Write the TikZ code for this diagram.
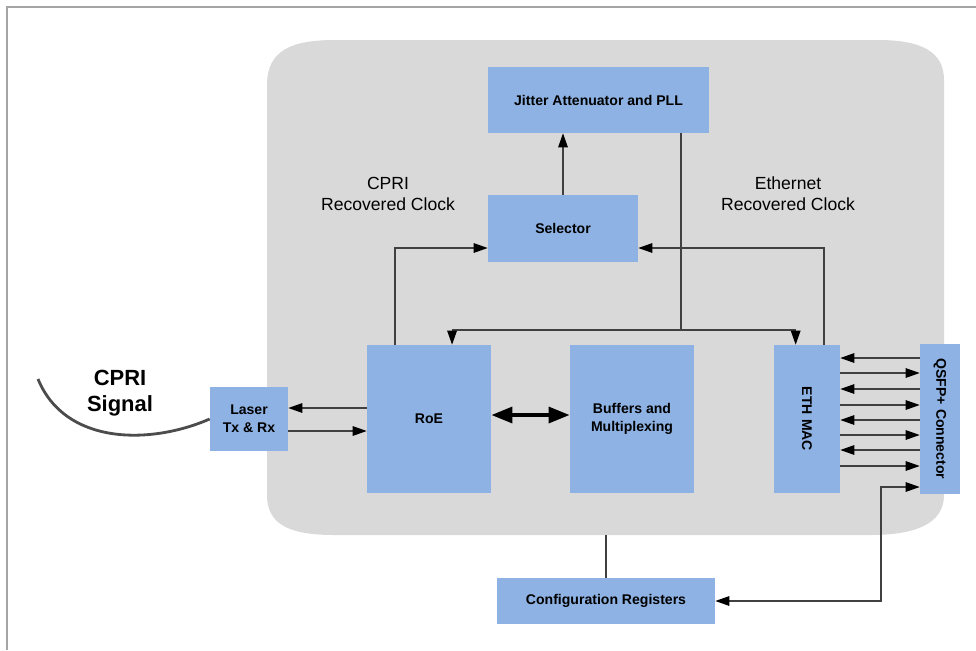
\documentclass[tikz,border=0pt]{standalone}
\usepackage{fontspec}
\setmainfont{Liberation Sans}
\usetikzlibrary{arrows.meta}
\usetikzlibrary{calc}

\definecolor{blockblue}{RGB}{141,178,227}
\definecolor{boardgray}{RGB}{217,217,217}
\definecolor{framegray}{RGB}{165,165,165}

\tikzset{
  blk/.style={fill=blockblue, inner sep=1pt, align=center, font=\fontsize{8}{10}\selectfont\bfseries},
  wire/.style={draw=black!75, line width=0.6pt},
  tip/.style={Triangle[length=8pt,width=5.5pt,fill=black]},
  arr/.style={wire, -{Triangle[length=8pt,width=5.5pt,color=black]}},
  dblarr/.style={draw=black, line width=2.2pt, {Triangle[length=12pt,width=9pt]}-{Triangle[length=12pt,width=9pt]}},
  clocklbl/.style={align=center, font=\fontsize{10}{12}\selectfont}
}

\begin{document}
\begin{tikzpicture}[x=0.02cm, y=-0.02cm]
		\useasboundingbox (0,0) rectangle (976,650);

		% Outer frame
		\draw[framegray, line width=0.9pt] (7,650) -- (7,7) -- (976,7);

		% Board outline
		\fill[boardgray] (267,85) .. controls (267,50) and (292,40) .. (335,40) -- (878,40)
			.. controls (922,40) and (944,52) .. (944,80) -- (944,495)
			.. controls (944,524) and (915,535) .. (870,535) -- (335,535)
			.. controls (290,535) and (267,525) .. (267,495) -- cycle;
		\coordinate (boardbottom) at (606,535);

		% Blocks
		\node[blk, minimum width=4.42cm, minimum height=1.32cm] (jit) at (598.5,100) {Jitter Attenuator and PLL};
		\node[blk, minimum width=3.0cm, minimum height=1.34cm] (sel) at (563,228.5) {Selector};
		\node[blk, minimum width=2.48cm, minimum height=2.96cm] (roe) at (429,419) {RoE};
		\node[blk, minimum width=2.48cm, minimum height=2.96cm] (buf) at (632,419) {Buffers and\\Multiplexing};
		\node[blk, minimum width=1.32cm, minimum height=2.96cm] (eth) at (807,419) {\rotatebox{-90}{ETH MAC}};
		\node[blk, minimum width=0.8cm, minimum height=3.0cm] (qsfp) at (940,419) {\rotatebox{-90}{QSFP+ Connector}};
		\node[blk, minimum width=1.56cm, minimum height=1.28cm] (laser) at (249,419) {Laser\\Tx \& Rx};
		\node[blk, minimum width=4.36cm, minimum height=0.92cm] (cfg) at (606,601) {Configuration Registers};

		% Labels
		\node[clocklbl] (cprilbl) at (388,194) {CPRI\\Recovered Clock};
		\node[clocklbl] (ethlbl) at (788,194) {Ethernet\\Recovered Clock};
		\node[align=center, font=\fontsize{12.5}{15}\selectfont\bfseries] (signal) at (120,393) {CPRI\\Signal};

		% Clock paths
		\draw[arr] (sel.north) -- (sel.north |- jit.south);
		\coordinate (split) at (681,330);
		\draw[wire] (jit.south -| split) -- (split);
		\draw[arr] (split) -| ($(roe.north west)!0.685!(roe.north east)$);
		\draw[arr] (split) -| ($(eth.north west)!0.33!(eth.north east)$);
		\coordinate (cpriclk) at (395,248);
		\coordinate (ethclk) at (824,248);
		\draw[arr] (roe.north -| cpriclk) |- (sel.west |- cpriclk);
		\draw[arr] (eth.north -| ethclk) |- (sel.east |- ethclk);

		% Data paths
		\draw[arr] (roe.west |- 0,408) -- (laser.east |- 0,408);
		\draw[arr] (laser.east |- 0,431) -- (roe.west |- 0,431);
		\draw[dblarr] (roe.east |- 0,415) -- (buf.west |- 0,415);
		\foreach \y in {358,389,420,450}
			\draw[arr] (qsfp.west |- 0,\y) -- (eth.east |- 0,\y);
		\foreach \y in {373,405,435,466}
			\draw[arr] (eth.east |- 0,\y) -- (qsfp.west |- 0,\y);

		% Configuration
		\coordinate (cfgturn) at (881,487);
		\draw[wire, {Triangle[length=8pt,width=5.5pt,color=black]}-{Triangle[length=8pt,width=5.5pt,color=black]}] (cfg.east) -| (cfgturn) -- (qsfp.west |- cfgturn);
		\draw[wire] (cfg.north) -- (boardbottom);

		% CPRI fibre
		\coordinate (fiberend) at (38,379);
		\draw[black!70, line width=1.6pt] (fiberend) .. controls (65,445) and (150,445) .. (laser.west);
	\end{tikzpicture}
\end{document}
